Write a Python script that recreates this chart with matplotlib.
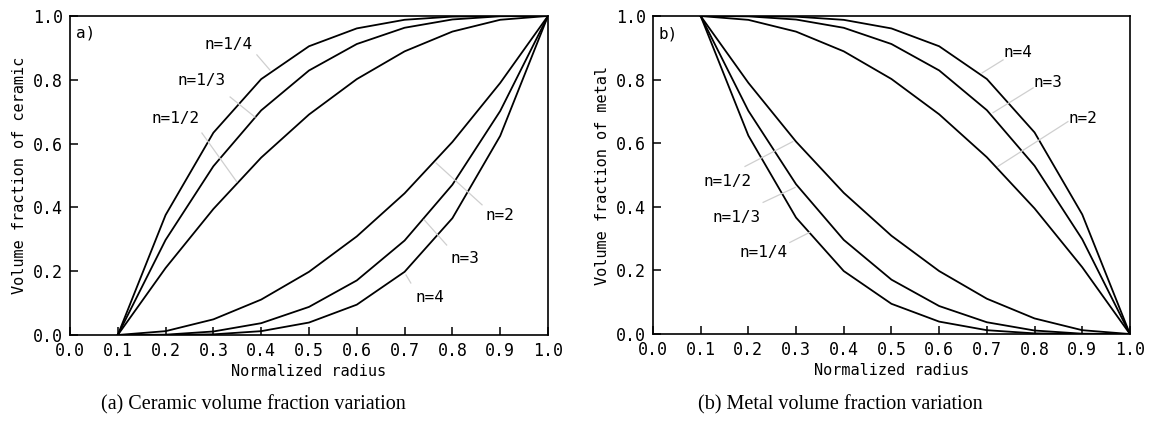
import matplotlib
matplotlib.use('Agg')
import matplotlib.pyplot as plt

# radius grid and volume fractions
radius = [0.1, 0.2, 0.3, 0.4, 0.5, 0.6, 0.7, 0.8, 0.9, 1.0]

ceramic = {
    'n=1/4': [0, 0.376, 0.634, 0.802, 0.905, 0.961, 0.988, 0.998, 1.000, 1],
    'n=1/3': [0, 0.298, 0.529, 0.704, 0.829, 0.912, 0.963, 0.989, 0.999, 1],
    'n=1/2': [0, 0.210, 0.395, 0.556, 0.691, 0.802, 0.889, 0.951, 0.988, 1],
    'n=2':   [0, 0.012, 0.049, 0.111, 0.198, 0.309, 0.444, 0.605, 0.790, 1],
    'n=3':   [0, 0.001, 0.011, 0.037, 0.088, 0.171, 0.296, 0.471, 0.702, 1],
    'n=4':   [0, 0.000, 0.002, 0.012, 0.039, 0.095, 0.198, 0.366, 0.624, 1],
}
metal = {
    'n=4':   [1, 1.000, 0.998, 0.988, 0.961, 0.905, 0.802, 0.634, 0.376, 0],
    'n=3':   [1, 0.999, 0.989, 0.963, 0.912, 0.829, 0.704, 0.529, 0.298, 0],
    'n=2':   [1, 0.988, 0.951, 0.889, 0.802, 0.691, 0.556, 0.395, 0.210, 0],
    'n=1/2': [1, 0.790, 0.605, 0.444, 0.309, 0.198, 0.111, 0.049, 0.012, 0],
    'n=1/3': [1, 0.702, 0.471, 0.296, 0.171, 0.088, 0.037, 0.011, 0.001, 0],
    'n=1/4': [1, 0.624, 0.366, 0.198, 0.095, 0.039, 0.012, 0.002, 0.000, 0],
}

# label position, leader start, leader end (axes data coords)
ceramic_notes = {
    'n=1/4': ((0.331, 0.909), (0.391, 0.878), (0.418, 0.831)),
    'n=1/3': ((0.276, 0.799), (0.335, 0.746), (0.387, 0.683)),
    'n=1/2': ((0.220, 0.680), (0.276, 0.633), (0.349, 0.480)),
    'n=2':   ((0.900, 0.376), (0.862, 0.408), (0.766, 0.539)),
    'n=3':   ((0.826, 0.241), (0.788, 0.282), (0.741, 0.361)),
    'n=4':   ((0.753, 0.119), (0.713, 0.163), (0.703, 0.188)),
}
metal_notes = {
    'n=1/2': ((0.157, 0.480), (0.193, 0.527), (0.293, 0.605)),
    'n=1/3': ((0.176, 0.367), (0.231, 0.414), (0.298, 0.461)),
    'n=1/4': ((0.231, 0.257), (0.287, 0.288), (0.329, 0.320)),
    'n=4':   ((0.765, 0.884), (0.734, 0.862), (0.690, 0.821)),
    'n=3':   ((0.828, 0.790), (0.797, 0.774), (0.713, 0.696)),
    'n=2':   ((0.901, 0.677), (0.870, 0.668), (0.723, 0.527)),
}

mono = 'DejaVu Sans Mono'
plt.rcParams['font.family'] = mono

fig = plt.figure(figsize=(11.51, 4.22), dpi=100)
ax1 = fig.add_axes([0.0608, 0.2062, 0.4153, 0.756])
ax2 = fig.add_axes([0.5673, 0.2085, 0.4144, 0.7535])


def draw_panel(ax, curves, notes, ylabel, tag):
    for name, vals in curves.items():
        ax.plot(radius, vals, color='black', lw=1.3)
    for name, (lab, p0, p1) in notes.items():
        ax.plot([p0[0], p1[0]], [p0[1], p1[1]], color='#cfcfcf', lw=0.9)
        ax.text(lab[0], lab[1], name, fontsize=11.5, ha='center', va='center')
    ax.set_xlim(0, 1)
    ax.set_ylim(0, 1)
    ax.set_xticks([i / 10 for i in range(11)])
    ax.set_yticks([i / 5 for i in range(6)])
    ax.xaxis.set_major_formatter(plt.FormatStrFormatter('%.1f'))
    ax.yaxis.set_major_formatter(plt.FormatStrFormatter('%.1f'))
    ax.tick_params(direction='in', length=6, width=1.1, labelsize=12,
                   top=False, right=False, pad=5)
    for s in ax.spines.values():
        s.set_linewidth(1.2)
    ax.set_xlabel('Normalized radius', fontsize=11, labelpad=3)
    ax.set_ylabel(ylabel, fontsize=11, labelpad=4)
    ax.text(0.012, 0.945, tag, fontsize=11.5, ha='left', va='center')


draw_panel(ax1, ceramic, ceramic_notes, 'Volume fraction of ceramic', 'a)')
draw_panel(ax2, metal, metal_notes, 'Volume fraction of metal', 'b)')

fig.text(0.2205, 0.04, '(a) Ceramic volume fraction variation',
         family='Liberation Serif', fontsize=14.5, ha='center', va='center')
fig.text(0.7305, 0.04, '(b) Metal volume fraction variation',
         family='Liberation Serif', fontsize=14.5, ha='center', va='center')

fig.savefig('out.png', dpi=100)
